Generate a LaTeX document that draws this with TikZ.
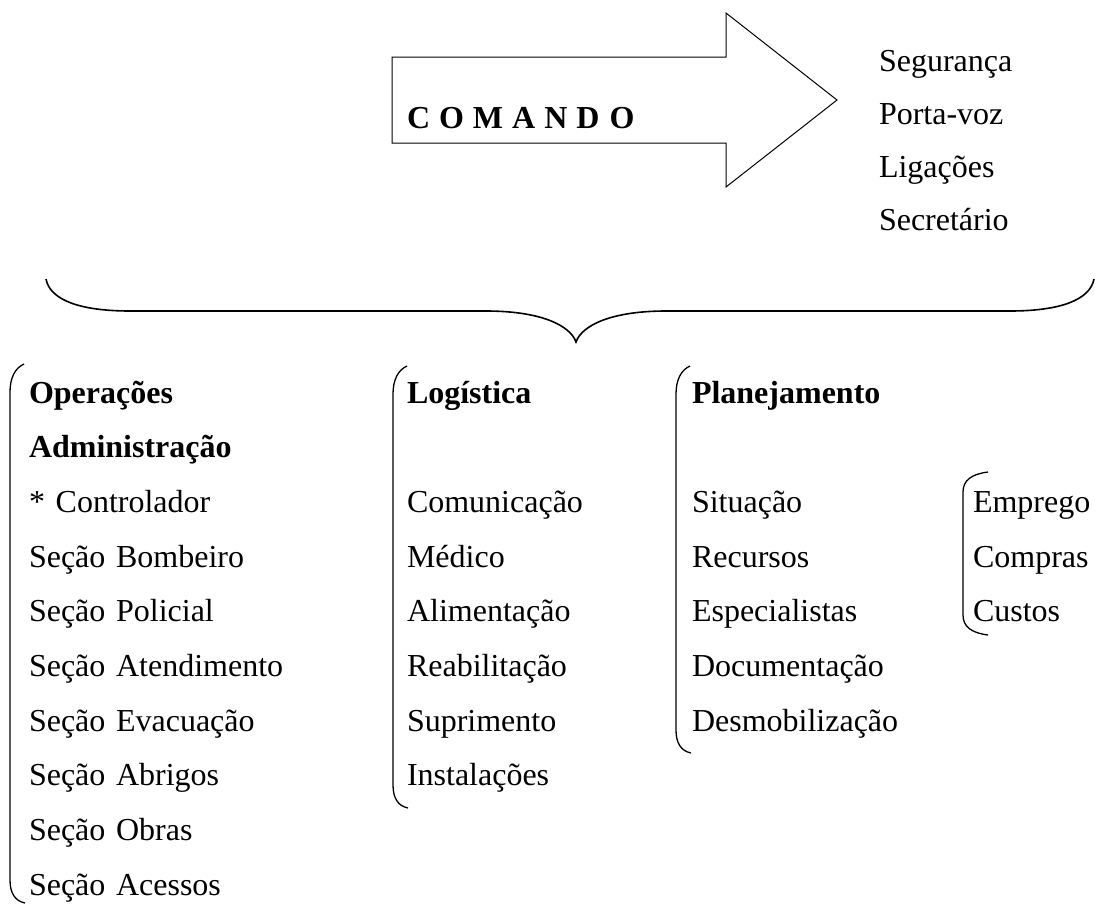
\documentclass[tikz,border=0pt]{standalone}
\usepackage{fontspec}
\setmainfont{Liberation Serif}

\begin{document}
\begin{tikzpicture}[x=1pt,y=-1pt,node distance=54.7pt,
  item/.style={font=\fontsize{32}{36}\selectfont,inner sep=0pt,text height=22pt,text depth=7pt,text width=300pt,align=left},
  head/.style={item,font=\fontsize{32}{36}\selectfont\bfseries},
  bracket/.style={line width=1.3pt}]

  \useasboundingbox (0,0) rectangle (1095,906);

  % arrow with the command
  \draw[line width=1pt] (392,57) -- (726,57) -- (726,13) -- (837,100) -- (726,187) -- (726,143) -- (392,143) -- cycle;
  \node[head] (cmd) at (557,120.5) {C\hspace{9pt}O\hspace{9pt}M\hspace{9pt}A\hspace{9pt}N\hspace{9pt}D\hspace{10pt}O};

  \node[item] (seg) at (1029,64.2) {Segurança};
  \node[item] (pv) [below of=seg,node distance=52.8pt] {Porta-voz};
  \node[item] (lig) [below of=pv,node distance=52.8pt] {Ligações};
  \node[item] (sec) [below of=lig,node distance=52.8pt] {Secretário};

  % big brace
  \draw[line width=1.6pt] (46,279) .. controls (50,300) and (80,311) .. (130,311) -- (486,311)
    .. controls (540,311) and (570,325) .. (576,342) .. controls (582,325) and (612,311) .. (666,311)
    -- (1010,311) .. controls (1060,311) and (1090,300) .. (1094,279);

  % operacoes
  \node[head] (op) at (179,395.5) {Operações};
  \node[head] (adm) [below of=op] {Administração};
  \node[item] (ctl) [below of=adm] {* Controlador};
  \node[item] (bomb) [below of=ctl] {Seção Bombeiro};
  \node[item] (pol) [below of=bomb] {Seção Policial};
  \node[item] (at) [below of=pol] {Seção Atendimento};
  \node[item] (ev) [below of=at] {Seção Evacuação};
  \node[item] (abr) [below of=ev] {Seção Abrigos};
  \node[item] (obr) [below of=abr] {Seção Obras};
  \node[item] (ac) [below of=obr] {Seção Acessos};

  % logistica
  \node[head] (log) at (557,395.5) {Logística};
  \node[item] (com) [below of=log,node distance=109.4pt] {Comunicação};
  \node[item] (med) [below of=com] {Médico};
  \node[item] (ali) [below of=med] {Alimentação};
  \node[item] (reab) [below of=ali] {Reabilitação};
  \node[item] (sup) [below of=reab] {Suprimento};
  \node[item] (inst) [below of=sup] {Instalações};

  % planejamento
  \node[head] (plan) at (842,395.5) {Planejamento};
  \node[item] (sit) [below of=plan,node distance=109.4pt] {Situação};
  \node[item] (rec) [below of=sit] {Recursos};
  \node[item] (esp) [below of=rec] {Especialistas};
  \node[item] (doc) [below of=esp] {Documentação};
  \node[item] (desm) [below of=doc] {Desmobilização};

  \node[item] (emp) at (1123,504.9) {Emprego};
  \node[item] (compr) [below of=emp] {Compras};
  \node[item] (cust) [below of=compr] {Custos};

  % brackets
  \draw[bracket] (24,364) .. controls (15,368) and (10,378) .. (10,392) -- (10,880) .. controls (10,893) and (15,901) .. (25,903);
  \draw[bracket] (407,366) .. controls (398,370) and (393,380) .. (393,394) -- (393,785) .. controls (393,798) and (398,806) .. (408,808);
  \draw[bracket] (690,366) .. controls (681,370) and (676,380) .. (676,394) -- (676,730) .. controls (676,743) and (681,751) .. (691,753);
  \draw[bracket] (988,472) .. controls (972,474) and (963,480) .. (963,492) -- (963,615) .. controls (963,627) and (972,633) .. (988,635);
\end{tikzpicture}
\end{document}
